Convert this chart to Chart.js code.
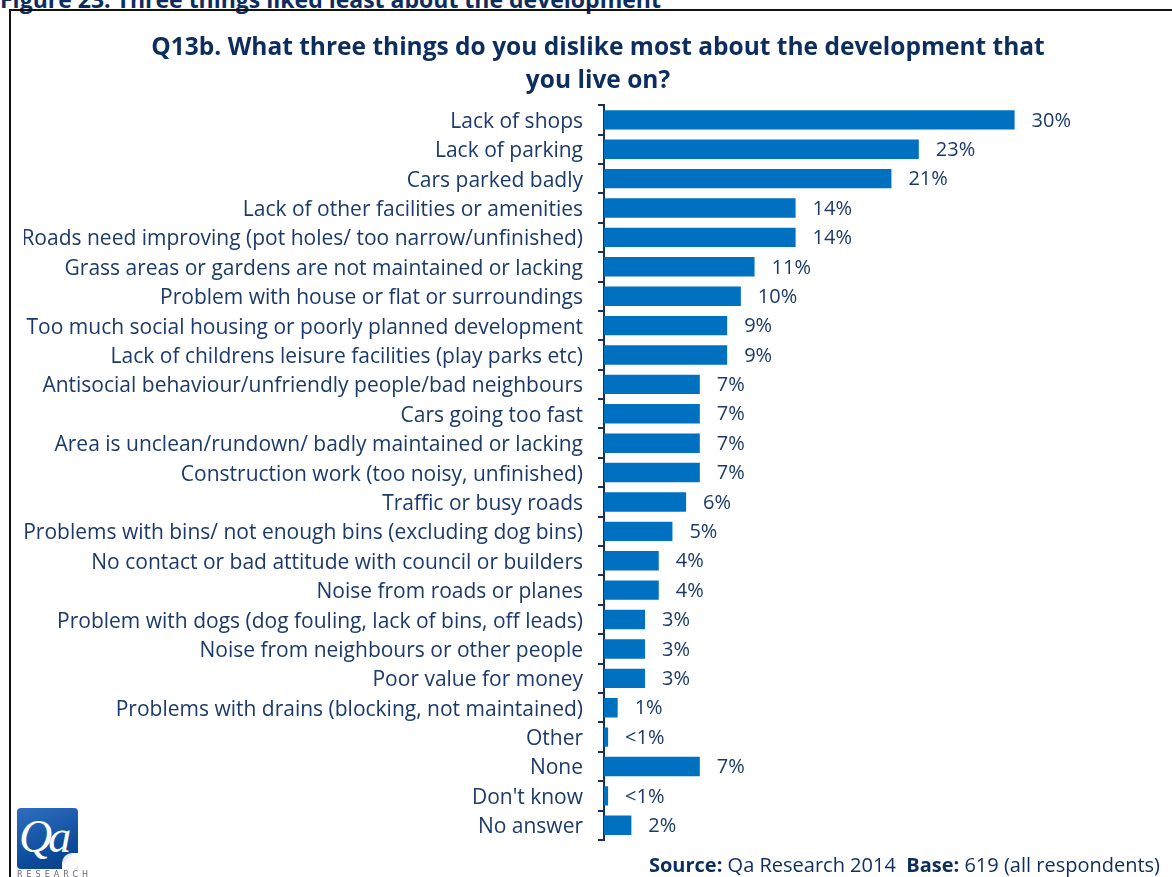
<!DOCTYPE html>
<html>
<head>
<meta charset="utf-8">
<script src="https://cdn.jsdelivr.net/npm/chart.js@4.4.1/dist/chart.umd.min.js"></script>
<style>
  html, body { margin: 0; padding: 0; background: #fff; overflow: hidden; }
  #wrap { position: relative; width: 1172px; height: 877px; }
  #figcap { position: absolute; left: 0; top: -17px; font: bold 23px "Open Sans", sans-serif; color: #0d2d5e; white-space: nowrap; }
  #frame { position: absolute; left: 9px; top: 9px; width: 1200px; height: 900px; border-left: 2px solid #111; border-top: 2px solid #111; }
  #chart { position: absolute; left: 0; top: 0; }
  #logo { position: absolute; left: 17px; top: 808px; width: 61px; height: 61px; border-radius: 4px;
          background: linear-gradient(160deg, #2f6fc0 0%, #0b4a9a 70%, #0a3f86 100%); overflow: hidden; }
  #logo span { position: absolute; left: 2px; top: 2px; font: italic 46px "Liberation Serif", serif; color: #fff; letter-spacing: -4px; }
  #logo i { position: absolute; right: 0; bottom: 0; width: 16px; height: 16px; background: linear-gradient(135deg, #c9d4e2 0%, #ffffff 50%, #fff 100%); border-top-left-radius: 10px; }
  #logo-txt { position: absolute; left: 17px; top: 870px; font: 8px "DejaVu Sans", sans-serif; color: #667; letter-spacing: 4px; }
  #source { position: absolute; right: 12px; top: 851px; font: 20px "Open Sans", sans-serif; color: #0d2d5e; white-space: nowrap; }
  #source b { font-weight: bold; }
</style>
</head>
<body>
<div id="wrap">
  <div id="figcap">Figure 23: Three things liked least about the development</div>
  <div id="frame"></div>
  <canvas id="chart" width="1172" height="877"></canvas>
  <div id="logo"><span>Qa</span><i></i></div>
  <div id="logo-txt">RESEARCH</div>
  <div id="source"><b>Source:</b> Qa Research 2014&nbsp;&nbsp;<b>Base:</b> 619 (all respondents)</div>
</div>
<script>
const categories = [
  'Lack of shops',
  'Lack of parking',
  'Cars parked badly',
  'Lack of other facilities or amenities',
  'Roads need improving (pot holes/ too narrow/unfinished)',
  'Grass areas or gardens are not maintained or lacking',
  'Problem with house or flat or surroundings',
  'Too much social housing or poorly planned development',
  'Lack of childrens leisure facilities (play parks etc)',
  'Antisocial behaviour/unfriendly people/bad neighbours',
  'Cars going too fast',
  'Area is unclean/rundown/ badly maintained or lacking',
  'Construction work (too noisy, unfinished)',
  'Traffic or busy roads',
  'Problems with bins/ not enough bins (excluding dog bins)',
  'No contact or bad attitude with council or builders',
  'Noise from roads or planes',
  'Problem with dogs (dog fouling, lack of bins, off leads)',
  'Noise from neighbours or other people',
  'Poor value for money',
  'Problems with drains (blocking, not maintained)',
  'Other',
  'None',
  "Don't know",
  'No answer'
];

// percentages; values under 1 show as "<1%"
const percents = [30, 23, 21, 14, 14, 11, 10, 9, 9, 7, 7, 7, 7, 6, 5, 4, 4, 3, 3, 3, 1, 0.3, 7, 0.3, 2];

const navy = '#1b3a6b';
const barBlue = '#0070c0';
const fontFamily = '"Open Sans", sans-serif';

function pctLabel(v) {
  return v < 1 ? '<1%' : v + '%';
}

// write the value next to the end of each bar
const valueLabels = {
  id: 'valueLabels',
  afterDatasetsDraw(chart) {
    const ctx = chart.ctx;
    const meta = chart.getDatasetMeta(0);
    ctx.save();
    ctx.font = '20px ' + fontFamily;
    ctx.fillStyle = navy;
    ctx.textBaseline = 'middle';
    meta.data.forEach((bar, i) => {
      ctx.fillText(pctLabel(percents[i]), bar.x + 17, bar.y + 1);
    });
    ctx.restore();
  }
};

new Chart(document.getElementById('chart'), {
  type: 'bar',
  data: {
    labels: categories,
    datasets: [{
      data: percents,
      backgroundColor: barBlue,
      categoryPercentage: 1,
      barPercentage: 0.66
    }]
  },
  options: {
    indexAxis: 'y',
    responsive: false,
    animation: false,
    layout: { padding: { left: 24, right: 0, top: 16, bottom: 37 } },
    plugins: {
      legend: { display: false },
      tooltip: { enabled: false },
      title: {
        display: true,
        text: ['Q13b. What three things do you dislike most about the development that', 'you live on?'],
        color: '#0d2d5e',
        font: { family: fontFamily, size: 24.5, weight: 'bold', lineHeight: 1.35 },
        padding: { top: 15, bottom: 8 }
      }
    },
    scales: {
      x: { display: false, min: 0, max: 41.5 },
      y: {
        afterFit(scale) { scale.width = 580; },
        border: { color: '#1b2f5c', width: 2 },
        grid: { drawOnChartArea: false, drawTicks: true, tickLength: 6, color: '#1b2f5c', lineWidth: 2 },
        ticks: { color: navy, font: { family: fontFamily, size: 21 }, padding: 15, labelOffset: 2, autoSkip: false }
      }
    }
  },
  plugins: [valueLabels]
});
</script>
</body>
</html>
